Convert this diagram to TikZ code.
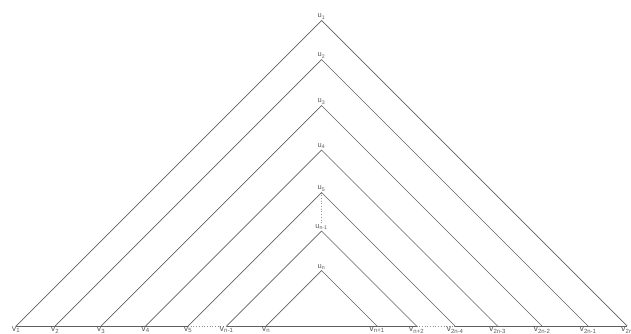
\documentclass[tikz,border=0pt]{standalone}
\usepackage{fontspec}
\setmainfont{Liberation Sans}
\definecolor{ln}{HTML}{606060}
\definecolor{tx}{HTML}{5A5A5A}
\begin{document}
\begin{tikzpicture}[x=1pt,y=1pt,
  edge/.style={draw=ln,line width=0.7pt},
  dotline/.style={draw=ln!70,line width=0.7pt,dotted},
  vlab/.style={anchor=north,inner sep=0pt,text=tx,font=\fontsize{9}{9}\selectfont},
  ulab/.style={anchor=south,inner sep=1.2pt,text=tx,font=\fontsize{7.5}{7.5}\selectfont}]
\useasboundingbox (0,0) rectangle (631,333);
% bottom vertices (left side)
\coordinate (v1) at (16,7);
\coordinate (v2) at (55,7);
\coordinate (v3) at (101,7);
\coordinate (v4) at (145.5,7);
\coordinate (v5) at (188,7);
\coordinate (vn1) at (226.5,7);
\coordinate (vn) at (266,7);
% right side
\coordinate (vnp1) at (377,7);
\coordinate (vnp2) at (416.5,7);
\coordinate (v2n4) at (455,7);
\coordinate (v2n3) at (497.5,7);
\coordinate (v2n2) at (542,7);
\coordinate (v2n1) at (588,7);
\coordinate (v2n) at (627,7);
% apexes
\coordinate (u1) at (321.5,312.5);
\coordinate (u2) at (321.5,273.5);
\coordinate (u3) at (321.5,227.5);
\coordinate (u4) at (321.5,183);
\coordinate (u5) at (321.5,140.5);
\coordinate (un1) at (321.5,102);
\coordinate (un) at (321.5,62.5);
% triangles
\draw[edge] (v1) -- (u1) -- (v2n);
\draw[edge] (v2) -- (u2) -- (v2n1);
\draw[edge] (v3) -- (u3) -- (v2n2);
\draw[edge] (v4) -- (u4) -- (v2n3);
\draw[edge] (v5) -- (u5) -- (v2n4);
\draw[edge] (vn1) -- (un1) -- (vnp2);
\draw[edge] (vn) -- (un) -- (vnp1);
% bottom line
\draw[edge] (v1) -- (v5);
\draw[dotline] (v5) -- (vn1);
\draw[edge] (vn1) -- (vnp2);
\draw[dotline] (vnp2) -- (v2n4);
\draw[edge] (v2n4) -- (v2n);
% apex labels
\node[ulab] (lu1) at (u1) {u\textsubscript{1}};
\node[ulab] (lu2) at (u2) {u\textsubscript{2}};
\node[ulab] (lu3) at (u3) {u\textsubscript{3}};
\node[ulab] (lu4) at (u4) {u\textsubscript{4}};
\node[ulab] (lu5) at (u5) {u\textsubscript{5}};
\node[ulab] (lun1) at (un1) {u\textsubscript{n-1}};
\node[ulab] (lun) at (un) {u\textsubscript{n}};
\draw[dotline] (u5) -- (lun1.north);
% bottom labels
\node[vlab] (lv1) at ([yshift=-1pt]v1) {v\textsubscript{1}};
\node[vlab] (lv2) at ([yshift=-1pt]v2) {v\textsubscript{2}};
\node[vlab] (lv3) at ([yshift=-1pt]v3) {v\textsubscript{3}};
\node[vlab] (lv4) at ([yshift=-1pt]v4) {v\textsubscript{4}};
\node[vlab] (lv5) at ([yshift=-1pt]v5) {v\textsubscript{5}};
\node[vlab] (lvn1) at ([yshift=-1pt]vn1) {v\textsubscript{n-1}};
\node[vlab] (lvn) at ([yshift=-1pt]vn) {v\textsubscript{n}};
\node[vlab] (lvnp1) at ([yshift=-1pt]vnp1) {v\textsubscript{n+1}};
\node[vlab] (lvnp2) at ([yshift=-1pt]vnp2) {v\textsubscript{n+2}};
\node[vlab] (lv2n4) at ([yshift=-1pt]v2n4) {v\textsubscript{2n-4}};
\node[vlab] (lv2n3) at ([yshift=-1pt]v2n3) {v\textsubscript{2n-3}};
\node[vlab] (lv2n2) at ([yshift=-1pt]v2n2) {v\textsubscript{2n-2}};
\node[vlab] (lv2n1) at ([yshift=-1pt]v2n1) {v\textsubscript{2n-1}};
\node[vlab] (lv2n) at ([yshift=-1pt]v2n) {v\textsubscript{2n}};
\end{tikzpicture}
\end{document}
